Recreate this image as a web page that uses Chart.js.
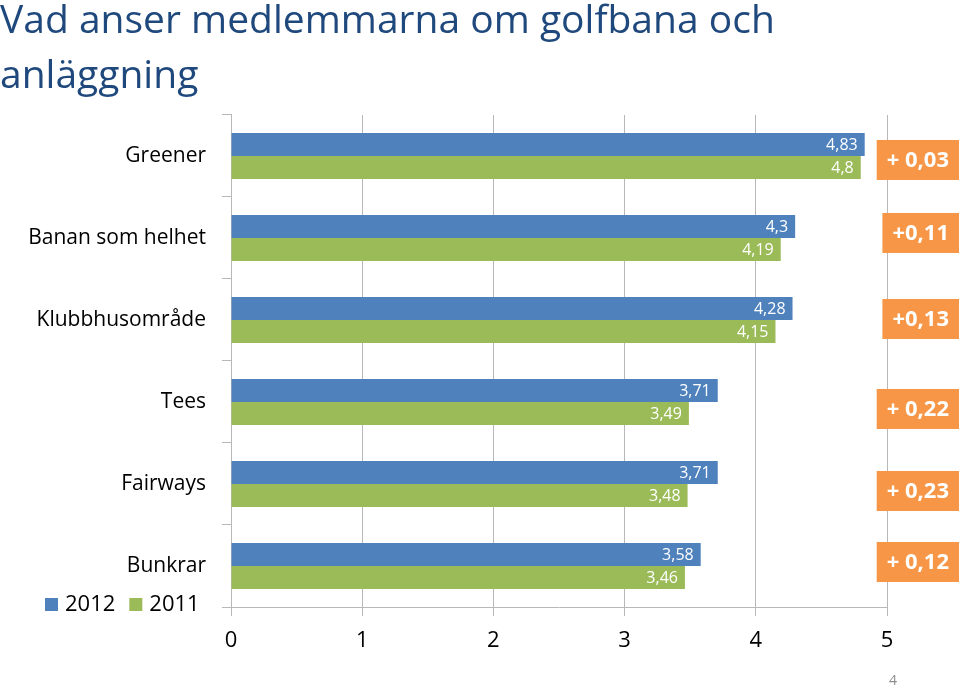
<!DOCTYPE html>
<html>
<head>
<meta charset="utf-8">
<script src="https://cdn.jsdelivr.net/npm/chart.js@4/dist/chart.umd.min.js"></script>
<style>
  html, body { margin: 0; padding: 0; background: #ffffff; }
  #wrap { width: 960px; height: 688px; position: relative; }
</style>
</head>
<body>
<div id="wrap"><canvas id="c" width="960" height="688"></canvas></div>
<script>
const titleLines = ['Vad anser medlemmarna om golfbana och', 'anläggning'];
const categories = ['Greener', 'Banan som helhet', 'Klubbhusområde', 'Tees', 'Fairways', 'Bunkrar'];
const values2012 = [4.83, 4.3, 4.28, 3.71, 3.71, 3.58];
const values2011 = [4.8, 4.19, 4.15, 3.49, 3.48, 3.46];
const diffLabels = ['+ 0,03', '+0,11', '+0,13', '+ 0,22', '+ 0,23', '+ 0,12'];
const xTicks = [0, 1, 2, 3, 4, 5];
const pageNumber = '4';

const FONT = "'Open Sans', 'Liberation Sans', sans-serif";
const GRID = '#B8B8B8';

const fmt = v => String(v).replace('.', ',');

const barLabels = {
  id: 'barLabels',
  afterDatasetsDraw(chart) {
    const ctx = chart.ctx;
    ctx.save();
    ctx.font = '16px ' + FONT;
    ctx.fillStyle = '#FFFFFF';
    ctx.textAlign = 'right';
    ctx.textBaseline = 'middle';
    chart.data.datasets.forEach((ds, di) => {
      const meta = chart.getDatasetMeta(di);
      meta.data.forEach((el, i) => {
        ctx.fillText(fmt(ds.data[i]), el.x - 7, el.y + 1);
      });
    });
    ctx.restore();
  }
};

const diffBoxes = {
  id: 'diffBoxes',
  afterDraw(chart, args, opts) {
    const ctx = chart.ctx;
    const ys = chart.scales.y;
    ctx.save();
    ctx.font = 'bold 22px ' + FONT;
    ctx.textAlign = 'center';
    ctx.textBaseline = 'middle';
    diffLabels.forEach((t, i) => {
      const cy = ys.getPixelForValue(i) + opts.offsets[i];
      const w = ctx.measureText(t).width + 20;
      const h = 40;
      const x1 = opts.right;
      ctx.fillStyle = '#F79646';
      ctx.fillRect(x1 - w, cy - h / 2, w, h);
      ctx.fillStyle = '#FFFFFF';
      ctx.fillText(t, x1 - w / 2, cy + 1);
    });
    ctx.restore();
  }
};

const customLegend = {
  id: 'customLegend',
  afterDraw(chart, args, opts) {
    const ctx = chart.ctx;
    ctx.save();
    ctx.font = '22px ' + FONT;
    ctx.textBaseline = 'middle';
    ctx.textAlign = 'left';
    let x = opts.x;
    const y = opts.y;
    chart.data.datasets.forEach(ds => {
      ctx.fillStyle = ds.backgroundColor;
      ctx.fillRect(x, y - 7, 13, 13);
      x += 20;
      ctx.fillStyle = '#000000';
      ctx.fillText(ds.label, x, y);
      x += ctx.measureText(ds.label).width + 14;
    });
    ctx.fillStyle = '#8C8C8C';
    ctx.font = '14px ' + FONT;
    ctx.textAlign = 'center';
    ctx.fillText(pageNumber, 893, 681);
    ctx.restore();
  }
};

new Chart(document.getElementById('c'), {
  type: 'bar',
  data: {
    labels: categories,
    datasets: [
      { label: '2012', data: values2012, backgroundColor: '#4F81BD' },
      { label: '2011', data: values2011, backgroundColor: '#9BBB59' }
    ]
  },
  options: {
    indexAxis: 'y',
    responsive: false,
    animation: false,
    devicePixelRatio: 1,
    layout: { padding: { left: 0, right: 73, top: 0, bottom: 0 } },
    datasets: { bar: { categoryPercentage: 0.56, barPercentage: 1.0 } },
    scales: {
      x: {
        min: 0, max: 5,
        afterBuildTicks(s) { s.ticks = xTicks.map(v => ({ value: v })); },
        afterFit(s) { s.height = 81; },
        border: { color: GRID },
        grid: { color: GRID, tickLength: 9, drawOnChartArea: true },
        ticks: { color: '#000000', font: { family: FONT, size: 22 }, padding: 12, callback: v => String(v) }
      },
      y: {
        afterFit(s) { s.width = 231; },
        border: { color: GRID },
        grid: { color: GRID, tickLength: 9, drawOnChartArea: false, offset: true },
        ticks: { color: '#000000', font: { family: FONT, size: 21 }, padding: 16 }
      }
    },
    plugins: {
      legend: { display: false },
      tooltip: { enabled: false },
      title: {
        display: true,
        text: titleLines,
        align: 'start',
        color: '#1F497D',
        font: { family: FONT, size: 39, weight: 'normal', lineHeight: 1.41 },
        padding: { top: -6, bottom: 11 }
      },
      diffBoxes: { right: 959, offsets: [4, -5, -1, 7, 7, -4] },
      customLegend: { x: 45, y: 605 }
    }
  },
  plugins: [barLabels, diffBoxes, customLegend]
});
</script>
</body>
</html>
